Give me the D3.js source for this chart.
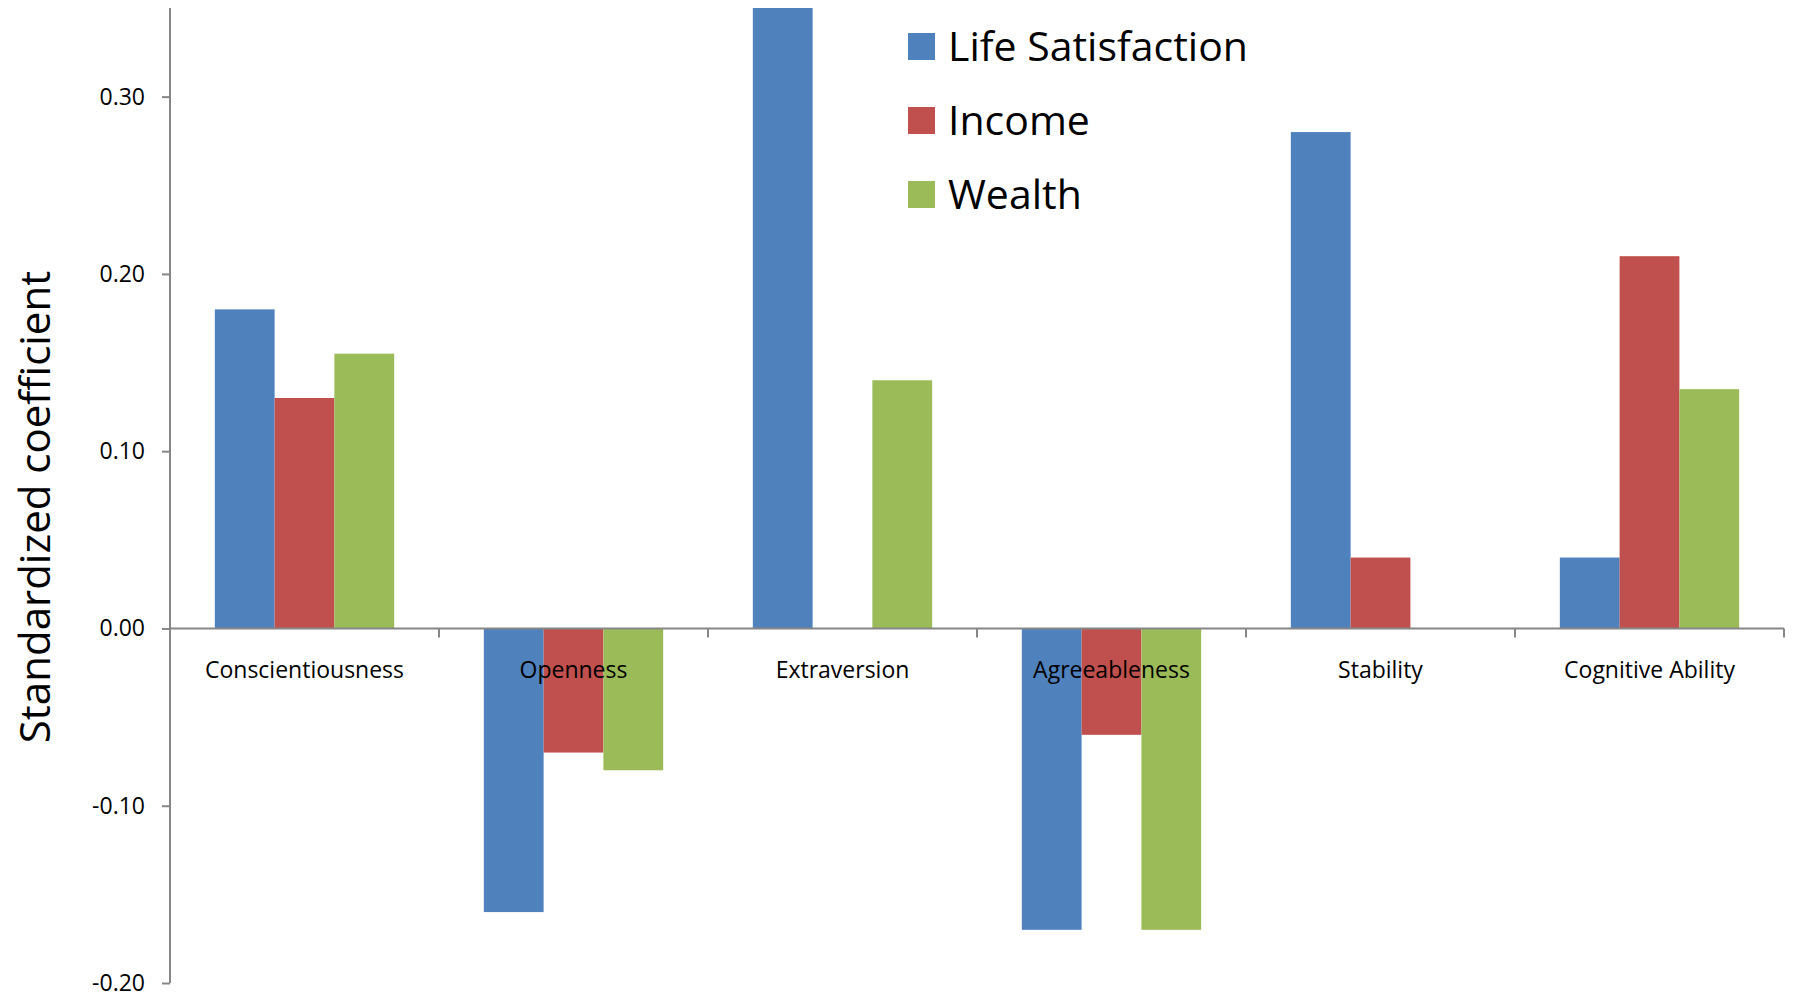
<!DOCTYPE html>
<html>
<head>
<meta charset="utf-8">
<script src="https://cdn.jsdelivr.net/npm/d3@7"></script>
<style>
  body { margin: 0; background: #fff; }
  text { font-family: "Open Sans", "Noto Sans", sans-serif; fill: #000; }
</style>
</head>
<body>
<div id="chart"></div>
<script>
// categories and series
var categories = ['Conscientiousness', 'Openness', 'Extraversion', 'Agreeableness', 'Stability', 'Cognitive Ability'];
var seriesNames = ['Life Satisfaction', 'Income', 'Wealth'];
var seriesColors = ['#4F81BD', '#C0504D', '#9BBB59'];

var lifeSatisfaction = [0.18, -0.16, 0.35, -0.17, 0.28, 0.04];
var income = [0.13, -0.07, 0, -0.06, 0.04, 0.21];
var wealth = [0.155, -0.08, 0.14, -0.17, 0, 0.135];

var yTicks = [-0.2, -0.1, 0, 0.1, 0.2, 0.3];
var yDomain = [-0.2, 0.35];

function drawChart() {
  var width = 1795,
    height = 995;

  var plotLeft = 170, plotRight = 1784, plotTop = 8, plotBottom = 983;

  var svg = d3.select('#chart')
    .append('svg')
    .attr('width', width)
    .attr('height', height);

  var y = d3.scaleLinear().domain(yDomain).range([plotBottom, plotTop]);

  var x = d3.scaleBand().domain(categories).range([plotLeft, plotRight]).padding(0);

  // three bars per group, gap width 150%
  var xInner = d3.scaleBand().domain(seriesNames)
    .range([0, x.bandwidth()])
    .paddingInner(0)
    .paddingOuter(0.75);

  var allSeries = [lifeSatisfaction, income, wealth];

  var rows = [];
  categories.forEach(function(c, i) {
    seriesNames.forEach(function(s, j) {
      rows.push({ cat: c, series: s, value: allSeries[j][i], color: seriesColors[j] });
    });
  });

  svg.append('g')
    .selectAll('rect')
    .data(rows.filter(function(d) { return d.value !== 0; }))
    .enter()
    .append('rect')
    .attr('x', function(d) { return x(d.cat) + xInner(d.series); })
    .attr('width', xInner.bandwidth())
    .attr('y', function(d) { return y(Math.max(0, d.value)); })
    .attr('height', function(d) { return Math.abs(y(d.value) - y(0)); })
    .attr('fill', function(d) { return d.color; });

  // y axis
  var yAxis = svg.append('g')
    .attr('transform', 'translate(' + plotLeft + ',0)')
    .call(d3.axisLeft(y)
      .tickValues(yTicks)
      .tickSize(8)
      .tickPadding(17)
      .tickFormat(function(d) { return d.toFixed(2); }));

  yAxis.select('.domain').attr('stroke', '#868686').attr('stroke-width', 2)
    .attr('d', 'M0,' + plotTop + 'V' + plotBottom);
  yAxis.selectAll('.tick line').attr('stroke', '#868686').attr('stroke-width', 2);
  yAxis.selectAll('.tick text')
    .style('font-family', '"Open Sans", sans-serif')
    .style('font-size', '23px')
    .attr('fill', '#000');

  // x axis at zero
  var xAxis = svg.append('g')
    .attr('transform', 'translate(0,' + y(0) + ')');

  xAxis.append('line')
    .attr('x1', plotLeft).attr('x2', plotRight)
    .attr('stroke', '#868686').attr('stroke-width', 2);

  xAxis.selectAll('.xtick')
    .data(categories.slice(1).concat(['end']))
    .enter()
    .append('line')
    .attr('x1', function(d) { return d === 'end' ? plotRight : x(d); })
    .attr('x2', function(d) { return d === 'end' ? plotRight : x(d); })
    .attr('y1', 0).attr('y2', 9)
    .attr('stroke', '#868686').attr('stroke-width', 2);

  xAxis.selectAll('.xlabel')
    .data(categories)
    .enter()
    .append('text')
    .attr('x', function(d) { return x(d) + x.bandwidth() / 2; })
    .attr('y', 50)
    .attr('text-anchor', 'middle')
    .style('font-size', '23px')
    .text(function(d) { return d; });

  // y axis title
  svg.append('text')
    .attr('transform', 'translate(50,507) rotate(-90)')
    .attr('text-anchor', 'middle')
    .style('font-size', '42px')
    .text('Standardized coefficient');

  // legend
  var legend = svg.append('g')
    .attr('transform', 'translate(908,33)');

  var items = legend.selectAll('g')
    .data(seriesNames)
    .enter()
    .append('g')
    .attr('transform', function(d, i) { return 'translate(0,' + i * 74 + ')'; });

  items.append('rect')
    .attr('width', 27).attr('height', 27)
    .attr('fill', function(d, i) { return seriesColors[i]; });

  items.append('text')
    .attr('x', 40)
    .attr('y', 28)
    .style('font-size', '41px')
    .text(function(d) { return d; });
}

drawChart();
</script>
</body>
</html>
